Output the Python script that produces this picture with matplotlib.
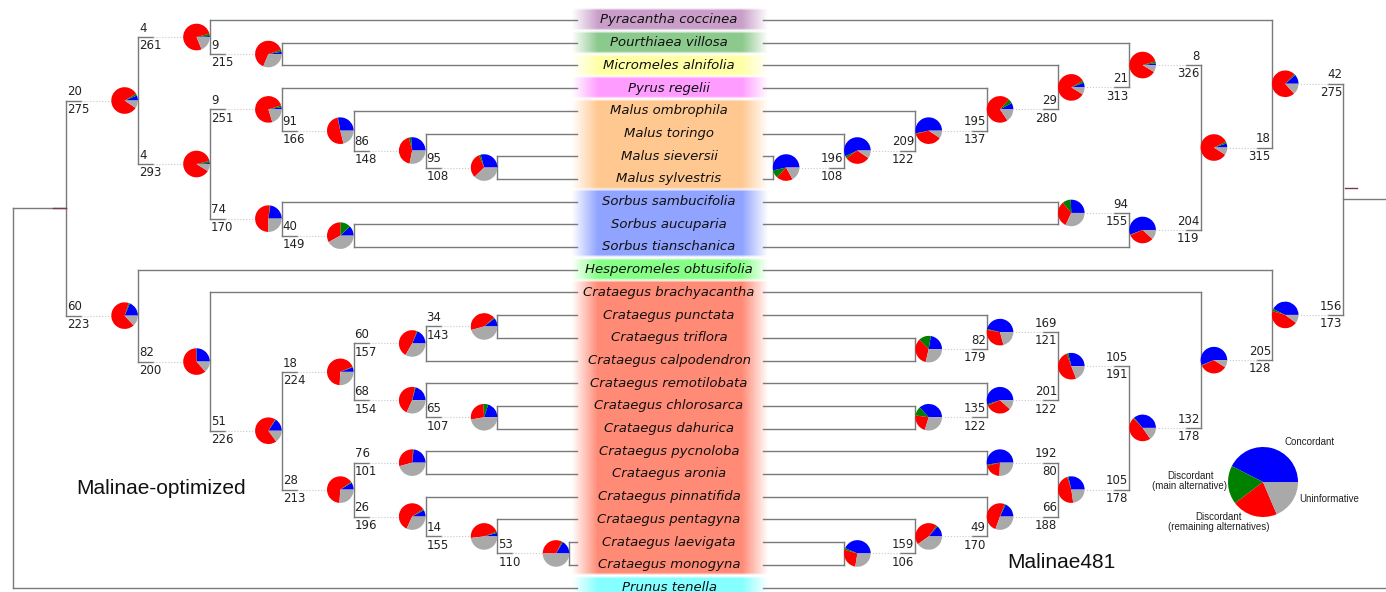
import numpy as np
import matplotlib.pyplot as plt
from matplotlib.patches import Wedge

# Taxa, top to bottom (shared by both trees)
taxa = [
    'Pyracantha coccinea', 'Pourthiaea villosa', 'Micromeles alnifolia', 'Pyrus regelii',
    'Malus ombrophila', 'Malus toringo', 'Malus sieversii', 'Malus sylvestris',
    'Sorbus sambucifolia', 'Sorbus aucuparia', 'Sorbus tianschanica',
    'Hesperomeles obtusifolia',
    'Crataegus brachyacantha', 'Crataegus punctata', 'Crataegus triflora',
    'Crataegus calpodendron', 'Crataegus remotilobata', 'Crataegus chlorosarca',
    'Crataegus dahurica', 'Crataegus pycnoloba', 'Crataegus aronia',
    'Crataegus pinnatifida', 'Crataegus pentagyna', 'Crataegus laevigata',
    'Crataegus monogyna', 'Prunus tenella',
]

# Internal node = [child, child, (concordant, conflicting, main alternative)]
# --- Malinae-optimized (left tree)
n_genes_left = 326
L_F = ['Pourthiaea villosa', 'Micromeles alnifolia', (9, 215, 8)]
L_D = ['Pyracantha coccinea', L_F, (4, 261, 9)]
L_K = ['Malus sieversii', 'Malus sylvestris', (95, 108, 7)]
L_J = ['Malus toringo', L_K, (86, 148, 9)]
L_I = ['Malus ombrophila', L_J, (91, 166, 2)]
L_G = ['Pyrus regelii', L_I, (9, 251, 7)]
L_L = ['Sorbus aucuparia', 'Sorbus tianschanica', (40, 149, 41)]
L_H = ['Sorbus sambucifolia', L_L, (74, 170, 2)]
L_E = [L_G, L_H, (4, 293, 8)]
L_B = [L_D, L_E, (20, 275, 8)]
L_S = ['Crataegus punctata', 'Crataegus triflora', (34, 143, 4)]
L_Q = [L_S, 'Crataegus calpodendron', (60, 157, 3)]
L_T = ['Crataegus chlorosarca', 'Crataegus dahurica', (65, 107, 20)]
L_R = ['Crataegus remotilobata', L_T, (68, 154, 3)]
L_O = [L_Q, L_R, (18, 224, 3)]
L_U = ['Crataegus pycnoloba', 'Crataegus aronia', (76, 101, 2)]
L_X = ['Crataegus laevigata', 'Crataegus monogyna', (53, 110, 5)]
L_W = ['Crataegus pentagyna', L_X, (14, 155, 5)]
L_V = ['Crataegus pinnatifida', L_W, (26, 196, 5)]
L_P = [L_U, L_V, (28, 213, 4)]
L_N = [L_O, L_P, (51, 226, 3)]
L_M = ['Crataegus brachyacantha', L_N, (82, 200, 2)]
L_C = ['Hesperomeles obtusifolia', L_M, (60, 223, 5)]
L_A = [L_B, L_C, None]
left_tree = [L_A, 'Prunus tenella', None]

# --- Malinae481 (right tree)
n_genes_right = 366
R_a = ['Malus sieversii', 'Malus sylvestris', (196, 108, 35)]
R_b = ['Malus toringo', R_a, (209, 122, 10)]
R_c = ['Malus ombrophila', R_b, (195, 137, 3)]
R_d = ['Pyrus regelii', R_c, (29, 280, 20)]
R_e = ['Micromeles alnifolia', R_d, (21, 313, 10)]
R_f = ['Pourthiaea villosa', R_e, (8, 326, 8)]
R_i = ['Sorbus sambucifolia', 'Sorbus aucuparia', (94, 155, 38)]
R_h = [R_i, 'Sorbus tianschanica', (204, 119, 3)]
R_g = [R_f, R_h, (18, 315, 8)]
R_j = ['Pyracantha coccinea', R_g, (42, 275, 6)]
R_s = ['Crataegus triflora', 'Crataegus calpodendron', (82, 179, 55)]
R_q = ['Crataegus punctata', R_s, (169, 121, 4)]
R_t = ['Crataegus chlorosarca', 'Crataegus dahurica', (135, 122, 40)]
R_r = ['Crataegus remotilobata', R_t, (201, 122, 6)]
R_o = [R_q, R_r, (105, 191, 8)]
R_u = ['Crataegus pycnoloba', 'Crataegus aronia', (192, 80, 5)]
R_x = ['Crataegus laevigata', 'Crataegus monogyna', (159, 106, 8)]
R_w = ['Crataegus pentagyna', R_x, (49, 170, 6)]
R_v = ['Crataegus pinnatifida', R_w, (66, 188, 5)]
R_p = [R_u, R_v, (105, 178, 5)]
R_n = [R_o, R_p, (132, 178, 4)]
R_m = ['Crataegus brachyacantha', R_n, (205, 128, 3)]
R_l = ['Hesperomeles obtusifolia', R_m, (156, 173, 10)]
R_k = [R_j, R_l, None]
right_tree = [R_k, 'Prunus tenella', None]

legend_labels = ['Concordant', 'Discordant\n(main alternative)',
                 'Discordant\n(remaining alternatives)', 'Uninformative']
legend_share = [42.5, 17.8, 21.1, 18.6]

# Styles
pie_colors = ['#0000ff', '#008000', '#ff0000', '#a9a9a9']
band_colors = {
    'Pyracantha': '#c99fc9', 'Pourthiaea': '#8cc98c', 'Micromeles': '#ffffa6',
    'Pyrus': '#ff9cff', 'Malus': '#ffc891', 'Sorbus': '#8fa3ff',
    'Hesperomeles': '#85ff85', 'Crataegus': '#ff8a75', 'Prunus': '#85ffff',
}
line_col = '#7a7a7a'
R = 13.3
Y0, DY = 20.0, 22.7
LEAF_END_L, LEAF_END_R = 577, 763

leaf_y = {t: Y0 + i * DY for i, t in enumerate(taxa)}


def xpos(depth, side):
    if side == 'L':
        return 13 if depth == 0 else 66 + (depth - 1) * 71.9
    return 1414.5 - depth * 71.3


fig = plt.figure(figsize=(13.86, 5.92), dpi=100)
ax = fig.add_axes([0, 0, 1, 1])


def draw_pie(cx, cy, vals, r=R, z=5):
    vals = np.asarray(vals, dtype=float)
    ang = np.concatenate([[0], np.cumsum(vals) / vals.sum() * 360])
    for k in range(len(vals)):
        # y axis is inverted, so negate angles to keep counter-clockwise on screen
        ax.add_patch(Wedge((cx, cy), r, -ang[k + 1], -ang[k],
                           facecolor=pie_colors[k], edgecolor='none', zorder=z))


def draw(node, depth, side, ngenes):
    if isinstance(node, str):
        return leaf_y[node]
    x = xpos(depth, side)
    d = 1 if side == 'L' else -1
    ys = []
    for ch in node[:2]:
        cy = draw(ch, depth + 1, side, ngenes)
        ys.append(cy)
        if isinstance(ch, str):
            xe = LEAF_END_L if side == 'L' else LEAF_END_R
            if ch == 'Prunus tenella' and side == 'R':
                ax.plot([xe, 1400], [cy, cy], color=line_col, lw=1.0, zorder=2)
            else:
                ax.plot([x, xe], [cy, cy], color=line_col, lw=1.0, zorder=2)
            continue
        cx = xpos(depth + 1, side)
        st = ch[2]
        if st is None:
            ax.plot([x, cx], [cy, cy], color=line_col, lw=1.0, zorder=2)
            continue
        conc, conf, alt = st
        ax.plot([x, x + d * 15], [cy, cy], color=line_col, lw=1.0, zorder=2)
        ax.plot([x + d * 15, cx - d * 2 * R], [cy, cy], color='#c8c8c8',
                lw=0.8, ls=':', zorder=2)
        draw_pie(cx - d * R, cy, [conc, alt, conf - alt, ngenes - conc - conf])
        ha = 'left' if side == 'L' else 'right'
        ax.text(x + d * 1, cy - 5.3, str(conc), ha=ha, va='baseline',
                fontsize=8.5, color='#222222', zorder=6)
        ax.text(x + d * 1, cy + 12.3, str(conf), ha=ha, va='baseline',
                fontsize=8.5, color='#222222', zorder=6)
    ax.plot([x, x], [min(ys), max(ys)], color=line_col, lw=1.0, zorder=2)
    return float(np.mean(ys))


draw(left_tree, 0, 'L', n_genes_left)
draw(right_tree, 0, 'R', n_genes_right)

# small root stubs
a_y = float(np.mean([np.mean([37.0, 164.0]), 315.6]))
ax.plot([53, 66], [a_y, a_y], color='#7a3b4a', lw=1.0, zorder=3)
ax.plot([1345, 1357], [187.5, 187.5], color='#7a3b4a', lw=1.0, zorder=3)

# Coloured taxon band
genus = [t.split()[0] for t in taxa]
bx0, bx1 = 572, 768
xs = np.arange(bx0, bx1) + 0.5
ax_prof = np.clip((xs - bx0) / 26, 0, 1) * np.clip((bx1 - xs) / 26, 0, 1)
i = 0
while i < len(taxa):
    j = i
    while j + 1 < len(taxa) and genus[j + 1] == genus[i]:
        j += 1
    top = leaf_y[taxa[i]] - DY / 2
    bot = leaf_y[taxa[j]] + DY / 2
    ys_ = np.arange(top, bot) + 0.5
    ay_prof = np.clip((ys_ - top) / 2.5, 0, 1) * np.clip((bot - ys_) / 2.5, 0, 1)
    rgb = np.array(plt.matplotlib.colors.to_rgb(band_colors[genus[i]]))
    img = np.ones((len(ys_), len(xs), 4))
    img[..., :3] = rgb
    img[..., 3] = ay_prof[:, None] * ax_prof[None, :]
    ax.imshow(img, extent=(bx0, bx1, bot, top), aspect='auto',
              interpolation='bilinear', zorder=1)
    i = j + 1

for t in taxa:
    ax.text(669, leaf_y[t], t, ha='center', va='center', fontsize=9.5,
            style='italic', color='#111111', zorder=6)

# Tree titles
ax.text(76, 489, 'Malinae-optimized', ha='left', va='center', fontsize=15,
        family='Liberation Sans', color='#111111')
ax.text(1007, 563, 'Malinae481', ha='left', va='center', fontsize=15,
        family='Liberation Sans', color='#111111')

# Legend pie
draw_pie(1263, 482, legend_share, r=35)
lf = dict(fontsize=7, family='Liberation Sans', color='#222222', linespacing=1.0)
ax.text(1310, 442, legend_labels[0], ha='center', va='center', **lf)
ax.text(1190, 481, legend_labels[1], ha='center', va='center', multialignment='center', **lf)
ax.text(1219, 522, legend_labels[2], ha='center', va='center', multialignment='center', **lf)
ax.text(1299, 499, legend_labels[3], ha='left', va='center', **lf)

ax.set_xlim(0, 1386)
ax.set_ylim(592, 0)
ax.axis('off')
fig.savefig('out.png', dpi=100, facecolor='white')
